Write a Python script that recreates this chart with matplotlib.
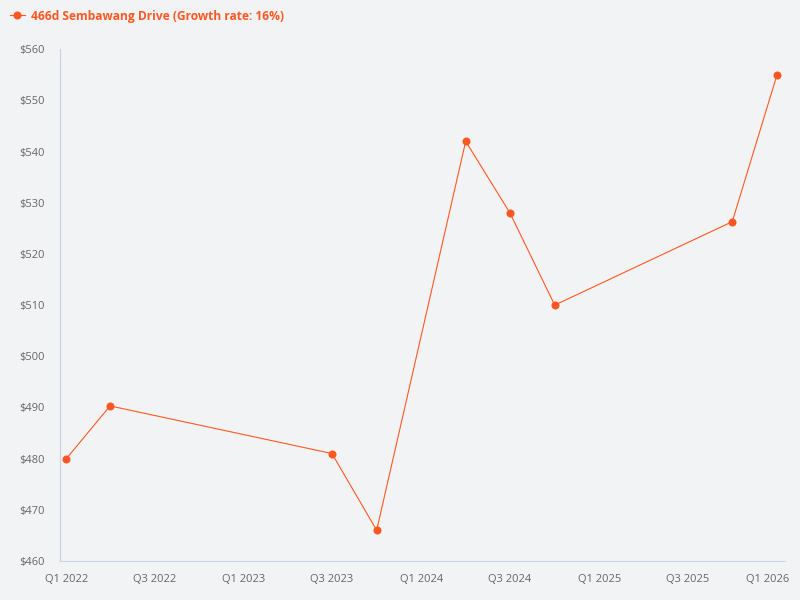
import matplotlib
matplotlib.use("Agg")
import matplotlib.pyplot as plt
from matplotlib.lines import Line2D
import matplotlib.transforms as mtransforms
import datetime as dt

# Data
dates = ["2022-01-01", "2022-04-01", "2023-07-01", "2023-10-01", "2024-04-01",
         "2024-07-01", "2024-10-01", "2025-10-01", "2026-01-01"]
prices = [480, 490.3, 481, 466, 542, 528, 510, 526.3, 555]
series_name = "466d Sembawang Drive (Growth rate: 16%)"
tick_dates = ["2022-01-01", "2022-07-01", "2023-01-01", "2023-07-01", "2024-01-01",
              "2024-07-01", "2025-01-01", "2025-07-01", "2026-01-01"]
tick_labels = ["Q1 2022", "Q3 2022", "Q1 2023", "Q3 2023", "Q1 2024",
               "Q3 2024", "Q1 2025", "Q3 2025", "Q1 2026"]
y_ticks = list(range(460, 561, 10))

plt.rcParams['font.family'] = ['Open Sans', 'DejaVu Sans']

bg = '#f2f3f5'
orange = '#ff5722'
xd = [dt.datetime.fromisoformat(d) for d in dates]
td = [dt.datetime.fromisoformat(d) for d in tick_dates]

fig = plt.figure(figsize=(8, 6), dpi=100, facecolor=bg)
ax = fig.add_axes([0.075, 0.065, 0.906, 0.853], facecolor=bg)

ax.plot(xd, prices, color=orange, lw=0.8, marker='o', markersize=5.8,
        markeredgewidth=0, zorder=3)

ax.set_ylim(460, 560)
ax.set_xlim(dt.datetime(2021, 12, 19), dt.datetime(2026, 1, 17))
ax.set_yticks(y_ticks)
ax.set_yticklabels([f"${v}" for v in y_ticks])
ax.set_xticks(td)
ax.set_xticklabels(tick_labels)

for s in ['top', 'right']:
    ax.spines[s].set_visible(False)
ax.spines['left'].set_color('#c8d0dc')
ax.spines['bottom'].set_color('#ccd6eb')
ax.spines['left'].set_linewidth(0.8)
ax.spines['bottom'].set_linewidth(0.8)
ax.tick_params(axis='both', length=0, labelsize=8, colors='#666666')
ax.tick_params(axis='x', pad=9)
ax.tick_params(axis='y', pad=11)
labels = ax.get_xticklabels()
offset = mtransforms.ScaledTranslation(-6.5/72, 0, fig.dpi_scale_trans)
labels[-1].set_transform(labels[-1].get_transform() + offset)

handle = Line2D([0], [0], color=orange, lw=0.8, marker='o', markersize=5.8,
                markeredgewidth=0)
leg = fig.legend([handle], [series_name], loc='upper left',
                 bbox_to_anchor=(0.0, 1.0), frameon=False, handlelength=1.3,
                 handletextpad=0.5, borderaxespad=0.4,
                 prop={'weight': 'bold', 'size': 8.65})
for t in leg.get_texts():
    t.set_color(orange)

fig.savefig("out.png", dpi=100, facecolor=bg)
